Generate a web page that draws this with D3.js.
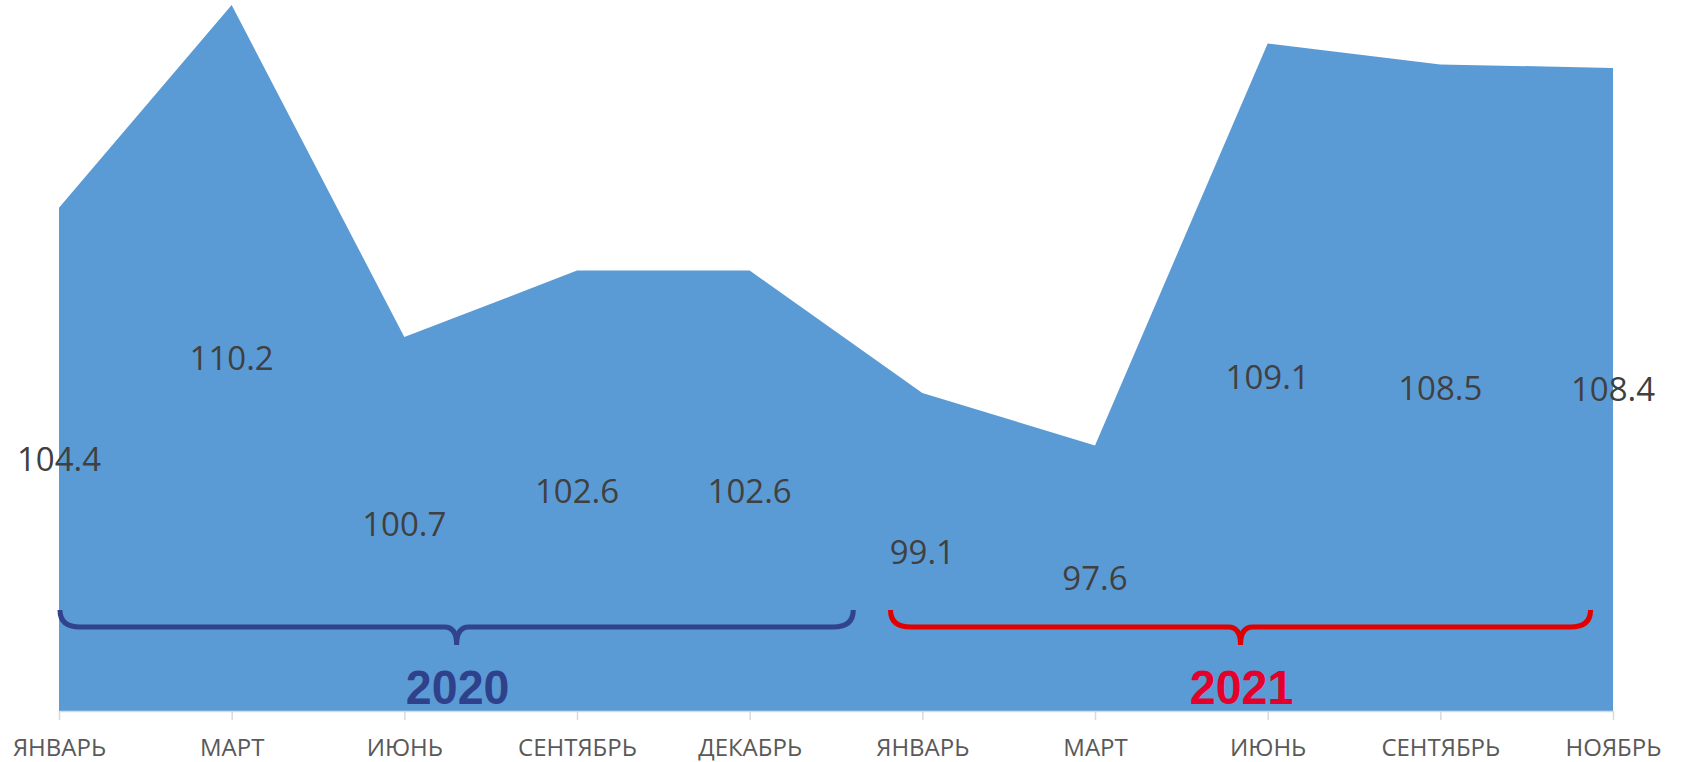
<!DOCTYPE html>
<html>
<head>
<meta charset="utf-8">
<script src="https://cdn.jsdelivr.net/npm/d3@7"></script>
<style>
  html, body { margin: 0; padding: 0; background: #fff; }
  svg { display: block; }
</style>
</head>
<body>
<div id="chart"></div>
<script>
// Chart data
const months = ['ЯНВАРЬ', 'МАРТ', 'ИЮНЬ', 'СЕНТЯБРЬ', 'ДЕКАБРЬ', 'ЯНВАРЬ', 'МАРТ', 'ИЮНЬ', 'СЕНТЯБРЬ', 'НОЯБРЬ'];
const values = [104.4, 110.2, 100.7, 102.6, 102.6, 99.1, 97.6, 109.1, 108.5, 108.4];
const years = ['2020', '2021'];
// first and last point index each year spans
const yearFrom = [0, 5];
const yearTo = [4, 9];
const yMin = 90;

const width = 1689, height = 762;

const svg = d3.select('#chart')
    .append('svg')
    .attr('width', width)
    .attr('height', height);

const x = d3.scalePoint()
    .domain(d3.range(values.length))
    .range([59, 1613]);

const y = d3.scaleLinear()
    .domain([yMin, 110.2])
    .range([711, 5]);

const step = x.step();

// Area
const area = d3.area()
    .x((d, i) => x(i))
    .y0(y(yMin))
    .y1(d => y(d));

svg.append('path')
    .datum(values)
    .attr('d', area)
    .attr('fill', '#5B9BD5');

// Axis
const axis = svg.append('g')
    .attr('transform', `translate(0,${y(yMin)})`)
    .call(d3.axisBottom(x)
        .tickSize(9)
        .tickPadding(19)
        .tickSizeOuter(0)
        .tickFormat(i => months[i]));

axis.select('.domain').attr('stroke', '#D9D9D9').attr('stroke-width', 1.5);
axis.selectAll('.tick line').attr('stroke', '#D9D9D9').attr('stroke-width', 1.5);
axis.selectAll('.tick text')
    .attr('fill', '#595959')
    .style('font-family', '"Open Sans", sans-serif')
    .style('font-size', '24px');

// Data labels, centred in the area
svg.append('g')
    .selectAll('text')
    .data(values)
    .join('text')
    .attr('x', (d, i) => x(i))
    .attr('y', d => (y(d) + y(yMin)) / 2)
    .attr('dy', '0.36em')
    .attr('text-anchor', 'middle')
    .attr('fill', '#404040')
    .style('font-family', '"Open Sans", sans-serif')
    .style('font-size', '33px')
    .text(d => d.toFixed(1));

// Year braces
const braceColors = ['#30438C', '#E00000'];
const yearColors = ['#30418B', '#E4002B'];
const braceStart = [0, -0.19];
const braceEnd = [0.6, -0.13];

function bracePath(x0, x1, top, mid, tip) {
    const xm = (x0 + x1) / 2;
    const r = 20, t = 12;
    return `M${x0},${top}` +
        `Q${x0},${mid} ${x0 + r},${mid}` +
        `L${xm - t},${mid}` +
        `Q${xm},${mid} ${xm},${tip}` +
        `Q${xm},${mid} ${xm + t},${mid}` +
        `L${x1 - r},${mid}` +
        `Q${x1},${mid} ${x1},${top}`;
}

years.forEach((yr, k) => {
    const x0 = x(yearFrom[k]) + braceStart[k] * step + 1;
    const x1 = x(yearTo[k]) + braceEnd[k] * step;
    const cx = (x0 + x1) / 2 + 1;

    svg.append('path')
        .attr('d', bracePath(x0, x1, 610, 627, 645))
        .attr('fill', 'none')
        .attr('stroke', braceColors[k])
        .attr('stroke-width', 5);

    svg.append('text')
        .attr('transform', `translate(${cx},704) scale(0.95,1)`)
        .attr('text-anchor', 'middle')
        .attr('fill', yearColors[k])
        .style('font-family', '"Liberation Sans", Arial, sans-serif')
        .style('font-weight', 'bold')
        .style('font-size', '49px')
        .text(yr);
});
</script>
</body>
</html>
